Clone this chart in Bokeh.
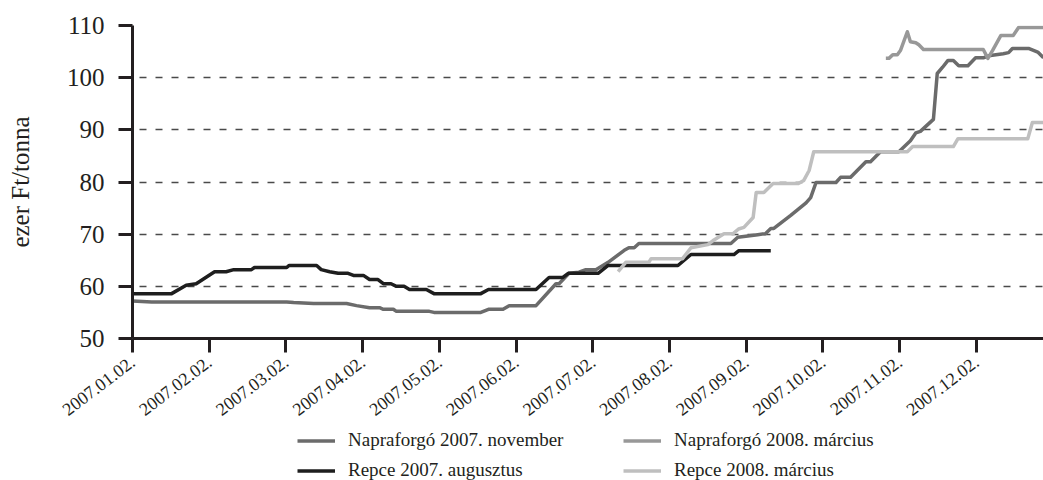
from bokeh.plotting import figure
from bokeh.layouts import column
from bokeh.models import Range1d, FixedTicker, Legend, LegendItem
from bokeh.embed import file_html
from bokeh.resources import INLINE

# x axis: one unit per monthly tick (0 = 2007.01.02.)
tick_labels = ["2007.01.02.", "2007.02.02.", "2007.03.02.", "2007.04.02.",
               "2007.05.02.", "2007.06.02.", "2007.07.02.", "2007.08.02.",
               "2007.09.02.", "2007.10.02.", "2007.11.02.", "2007.12.02."]
y_ticks = [50, 60, 70, 80, 90, 100, 110]

series_names = ["Napraforgó 2007. november", "Repce 2007. augusztus",
                "Napraforgó 2008. március", "Repce 2008. március"]

nap_nov_t = [0.00, 0.25, 2.01, 2.10, 2.36, 2.79, 2.92, 3.09, 3.22, 3.27,
             3.40, 3.44, 3.87, 3.93, 4.54, 4.64, 4.83, 4.91, 5.26, 5.52,
             5.56, 5.69, 5.82, 5.91, 6.04, 6.20, 6.41, 6.47, 6.54, 6.60,
             7.80, 7.89, 8.15, 8.25, 8.32, 8.36, 8.58, 8.78, 8.84, 8.91,
             9.17, 9.23, 9.36, 9.56, 9.62, 9.75, 9.99, 10.14, 10.21, 10.27,
             10.44, 10.49, 10.56, 10.63, 10.70, 10.77, 10.89, 10.99, 11.09, 11.16,
             11.35, 11.42, 11.47, 11.68, 11.80, 11.875]
nap_nov_v = [57.2, 57.0, 57.0, 56.9, 56.7, 56.7, 56.3, 55.9, 55.9, 55.6,
             55.6, 55.2, 55.2, 55.0, 55.0, 55.6, 55.6, 56.3, 56.3, 60.5,
             60.5, 62.5, 62.7, 63.2, 63.2, 64.6, 66.9, 67.4, 67.4, 68.2,
             68.2, 69.4, 69.9, 70.1, 71.1, 71.1, 73.6, 76.0, 77.0, 79.9,
             79.9, 80.9, 80.9, 83.9, 83.9, 85.8, 85.8, 87.9, 89.4, 89.7,
             92.0, 100.8, 102.0, 103.3, 103.3, 102.3, 102.3, 103.8, 103.8, 104.2,
             104.6, 104.8, 105.6, 105.6, 104.9, 103.8]

nap_mar_t = [9.82, 9.86, 9.91, 9.97, 10.01, 10.10, 10.14, 10.21, 10.25, 10.31,
             11.09, 11.15, 11.21, 11.32, 11.48, 11.55, 11.875]
nap_mar_v = [103.7, 103.7, 104.4, 104.4, 105.2, 108.8, 106.9, 106.7, 106.3, 105.4,
             105.4, 103.7, 105.2, 108.1, 108.1, 109.6, 109.6]

rep_aug_t = [0.00, 0.51, 0.70, 0.83, 1.07, 1.22, 1.32, 1.55, 1.59, 2.01,
             2.04, 2.40, 2.46, 2.57, 2.68, 2.81, 2.88, 3.01, 3.09, 3.20,
             3.27, 3.37, 3.44, 3.54, 3.61, 3.83, 3.93, 4.54, 4.64, 5.26,
             5.43, 5.61, 5.68, 6.07, 6.20, 7.11, 7.28, 7.84, 7.90, 8.32]
rep_aug_v = [58.6, 58.6, 60.2, 60.5, 62.8, 62.8, 63.2, 63.2, 63.6, 63.6,
             64.0, 64.0, 63.2, 62.8, 62.5, 62.5, 62.1, 62.1, 61.3, 61.3,
             60.5, 60.5, 60.0, 60.0, 59.4, 59.4, 58.6, 58.6, 59.4, 59.4,
             61.7, 61.7, 62.5, 62.5, 64.0, 64.0, 66.1, 66.1, 66.8, 66.8]

rep_mar_t = [6.33, 6.43, 6.73, 6.76, 7.17, 7.28, 7.50, 7.58, 7.71, 7.83,
             7.90, 7.97, 8.09, 8.13, 8.23, 8.35, 8.68, 8.75, 8.82, 8.88,
             10.10, 10.17, 10.70, 10.76, 11.67, 11.73, 11.875]
rep_mar_v = [62.8, 64.6, 64.6, 65.3, 65.3, 67.4, 68.0, 68.9, 70.1, 70.1,
             71.0, 71.3, 73.2, 78.0, 78.0, 79.7, 79.7, 80.3, 82.2, 85.8,
             85.8, 86.8, 86.8, 88.3, 88.3, 91.4, 91.4]

FONT = "Liberation Serif"
INK = "#231f20"
colors = {"nap_nov": "#6b6b6b", "nap_mar": "#989898",
          "rep_aug": "#1e1e1e", "rep_mar": "#bfbfbf"}
LW = 3.5

p = figure(width=1043, height=429, output_backend="svg", toolbar_location=None,
           x_range=Range1d(0, 11.875), y_range=Range1d(50, 110),
           min_border_left=132, min_border_right=0, min_border_top=25,
           min_border_bottom=91)
p.outline_line_color = None
p.background_fill_color = "white"
p.border_fill_color = "white"

p.xgrid.visible = False
p.ygrid.ticker = FixedTicker(ticks=y_ticks[1:])
p.ygrid.grid_line_color = "#4a4a4a"
p.ygrid.grid_line_width = 1.6
p.ygrid.grid_line_dash = "7 9"
p.ygrid.grid_line_dash_offset = 9

# y axis
ya = p.yaxis[0]
ya.ticker = FixedTicker(ticks=y_ticks)
ya.major_label_text_font = FONT
ya.major_label_text_font_size = "25px"
ya.major_label_text_color = INK
ya.major_tick_out = 14
ya.major_tick_in = 0
ya.minor_tick_out = 0
ya.minor_tick_in = 0
ya.major_tick_line_width = 3
ya.major_tick_line_color = INK
ya.axis_line_width = 3
ya.axis_line_color = INK
ya.major_label_standoff = 14
ya.axis_label = "ezer Ft/tonna"
ya.axis_label_text_font = FONT
ya.axis_label_text_font_size = "25px"
ya.axis_label_text_font_style = "normal"
ya.axis_label_text_color = INK
ya.axis_label_standoff = 30

# x axis
xa = p.xaxis[0]
xa.ticker = FixedTicker(ticks=list(range(len(tick_labels))))
xa.major_label_overrides = {i: lab for i, lab in enumerate(tick_labels)}
xa.major_label_orientation = 0.65
xa.major_label_text_font = FONT
xa.major_label_text_font_size = "18px"
xa.major_label_text_color = INK
xa.major_label_standoff = 7
xa.major_tick_out = 14
xa.major_tick_in = 0
xa.minor_tick_out = 0
xa.minor_tick_in = 0
xa.major_tick_line_width = 3
xa.major_tick_line_color = INK
xa.axis_line_width = 3
xa.axis_line_color = INK

r_nap_nov = p.line(nap_nov_t, nap_nov_v, line_width=LW, line_color=colors["nap_nov"], line_join="round")
r_nap_mar = p.line(nap_mar_t, nap_mar_v, line_width=LW, line_color=colors["nap_mar"], line_join="round")
r_rep_aug = p.line(rep_aug_t, rep_aug_v, line_width=LW, line_color=colors["rep_aug"], line_join="round")
r_rep_mar = p.line(rep_mar_t, rep_mar_v, line_width=LW, line_color=colors["rep_mar"], line_join="round")

# legend strip under the chart (its frame is aligned with the chart's frame)
q = figure(width=1043, height=51, output_backend="svg", toolbar_location=None,
           x_range=Range1d(0, 1), y_range=Range1d(0, 1),
           x_axis_location=None, y_axis_location=None,
           min_border_left=0, min_border_right=0, min_border_top=0, min_border_bottom=0)
q.outline_line_color = None
q.xgrid.visible = False
q.ygrid.visible = False
q.background_fill_color = "white"
q.border_fill_color = "white"

# legend-only renderers, kept outside the visible range
hx, hy = [-5, -4], [-5, -4]
l_nap_nov = q.line(hx, hy, line_width=LW, line_color=colors["nap_nov"])
l_rep_aug = q.line(hx, hy, line_width=LW, line_color=colors["rep_aug"])
l_nap_mar = q.line(hx, hy, line_width=LW, line_color=colors["nap_mar"])
l_rep_mar = q.line(hx, hy, line_width=LW, line_color=colors["rep_mar"])

legend = Legend(items=[
    LegendItem(label=series_names[0], renderers=[l_nap_nov]),
    LegendItem(label=series_names[1], renderers=[l_rep_aug]),
    LegendItem(label=series_names[2], renderers=[l_nap_mar]),
    LegendItem(label=series_names[3], renderers=[l_rep_mar]),
], location=(165, -1), ncols=2, orientation="vertical",
    label_text_font=FONT, label_text_font_size="19px", label_text_color=INK,
    glyph_width=38, glyph_height=19, label_standoff=13, label_width=267,
    label_height=21, spacing=8, padding=0, margin=0,
    border_line_color=None, background_fill_alpha=0)
q.add_layout(legend)

open("out.html", "w").write(file_html(column(p, q, spacing=0), INLINE))
